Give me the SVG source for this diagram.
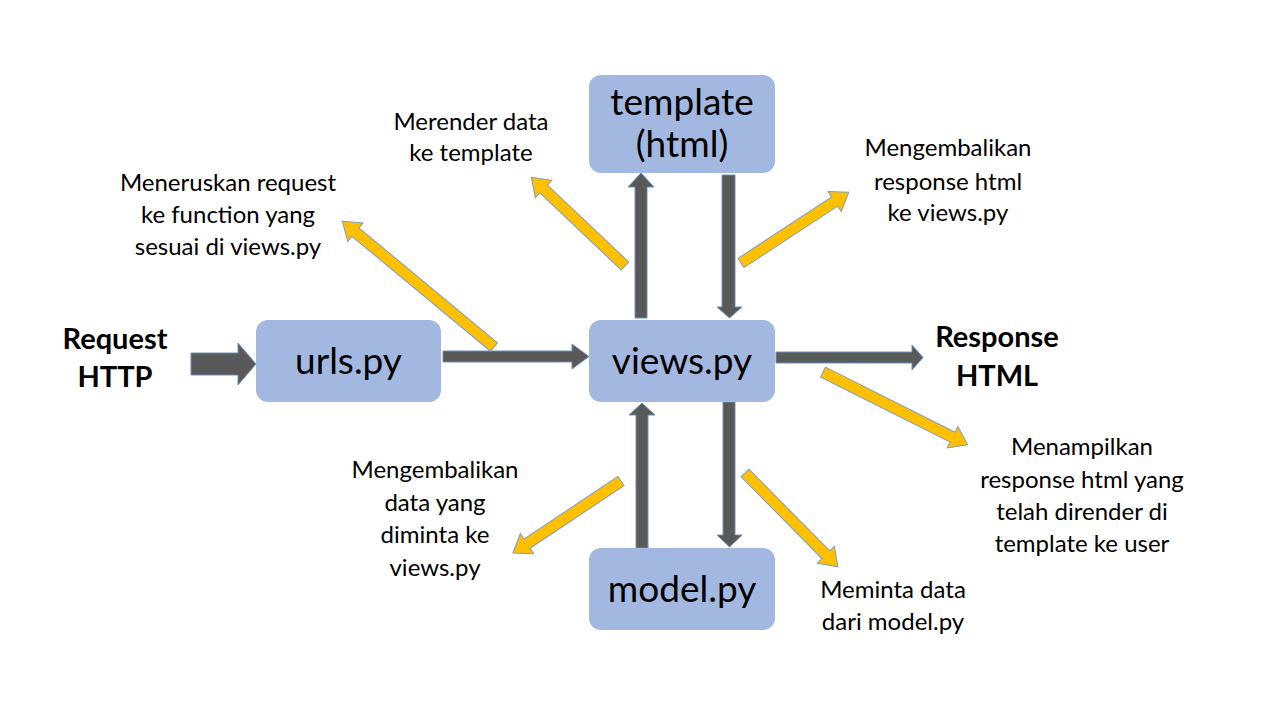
<svg xmlns="http://www.w3.org/2000/svg" width="1280" height="720" viewBox="0 0 1280 720">
<style>
.box{fill:#A2B8E0;}
.nt{font-family:Lato,"Liberation Sans",sans-serif;font-size:37px;fill:#000;text-anchor:middle;}
.lb{font-family:Lato,"Liberation Sans",sans-serif;font-size:24px;fill:#000;text-anchor:middle;}
.bd{font-family:Lato,"Liberation Sans",sans-serif;font-size:29px;font-weight:bold;fill:#000;text-anchor:middle;}
.ga{fill:#595959;stroke:#6F8FB8;stroke-width:1;}
.ya{fill:#FFC000;stroke:#7F9CC0;stroke-width:1;}
</style>
<rect width="1280" height="720" fill="#fff"/>
<g id="connectors">
<polygon class="ga" points="191,353 238,353 238,343 256,364 238,385 238,375 191,375"/>
<polygon class="ga" points="443,351 572,351 572,344 589,356.5 572,369 572,362 443,362"/>
<polygon class="ga" points="776,352 912,352 912,345 923,357.5 912,370 912,363 776,363"/>
<polygon class="ga" points="635,318 635,187 628,187 641,173 654,187 647,187 647,318"/>
<polygon class="ga" points="722,175 722,307 717,307 729.5,318 742,307 735,307 735,175"/>
<polygon class="ga" points="636,548 636,415 629,415 642,403 655,415 648,415 648,548"/>
<polygon class="ga" points="723,402 723,535 717,535 729.5,547 742,535 735,535 735,402"/>
<g class="ya">
<path d="M0,-5.5 L-180,-5.5 L-180,-12 L-197,0 L-180,12 L-180,5.5 L0,5.5 Z" transform="translate(494,347) rotate(39.66)"/>
<path d="M0,-5.5 L-112,-5.5 L-112,-12 L-129,0 L-112,12 L-112,5.5 L0,5.5 Z" transform="translate(625,266) rotate(43.43)"/>
<path d="M0,-5.5 L112,-5.5 L112,-12 L129,0 L112,12 L112,5.5 L0,5.5 Z" transform="translate(741,263) rotate(-33.3)"/>
<path d="M0,-5.5 L145,-5.5 L145,-12 L162,0 L145,12 L145,5.5 L0,5.5 Z" transform="translate(823,372) rotate(26.72)"/>
<path d="M0,-5.5 L-113,-5.5 L-113,-12 L-130,0 L-113,12 L-113,5.5 L0,5.5 Z" transform="translate(621,481) rotate(-33.69)"/>
<path d="M0,-5.5 L115,-5.5 L115,-12 L132,0 L115,12 L115,5.5 L0,5.5 Z" transform="translate(745,473) rotate(45.3)"/>
</g>
</g>
<g id="urls">
<rect class="box" x="256" y="320" width="185" height="82" rx="12"/>
<text class="nt" x="348.5" y="374">urls.py</text>
</g>
<g id="views">
<rect class="box" x="589" y="320" width="186" height="82" rx="12"/>
<text class="nt" x="682" y="374">views.py</text>
</g>
<g id="template">
<rect class="box" x="589" y="75" width="186" height="98" rx="12"/>
<text class="nt" x="682" y="115">template</text>
<text class="nt" x="682" y="157">(html)</text>
</g>
<g id="model">
<rect class="box" x="589" y="548" width="186" height="82" rx="12"/>
<text class="nt" x="682" y="602">model.py</text>
</g>
<g id="labels">
<text class="bd" x="115" y="349">Request</text>
<text class="bd" x="115" y="387">HTTP</text>
<text class="bd" x="997" y="347">Response</text>
<text class="bd" x="997" y="386">HTML</text>
<text class="lb" x="471" y="130">Merender data</text>
<text class="lb" x="471" y="161">ke template</text>
<text class="lb" x="228" y="191">Meneruskan request</text>
<text class="lb" x="228" y="223">ke function yang</text>
<text class="lb" x="228" y="255">sesuai di views.py</text>
<text class="lb" x="948" y="156">Mengembalikan</text>
<text class="lb" x="948" y="190">response html</text>
<text class="lb" x="948" y="221">ke views.py</text>
<text class="lb" x="1082" y="455">Menampilkan</text>
<text class="lb" x="1082" y="488">response html yang</text>
<text class="lb" x="1082" y="520">telah dirender di</text>
<text class="lb" x="1082" y="552">template ke user</text>
<text class="lb" x="435" y="478">Mengembalikan</text>
<text class="lb" x="435" y="511">data yang</text>
<text class="lb" x="435" y="543">diminta ke</text>
<text class="lb" x="435" y="576">views.py</text>
<text class="lb" x="893" y="598">Meminta data</text>
<text class="lb" x="893" y="630">dari model.py</text>
</g>
</svg>
